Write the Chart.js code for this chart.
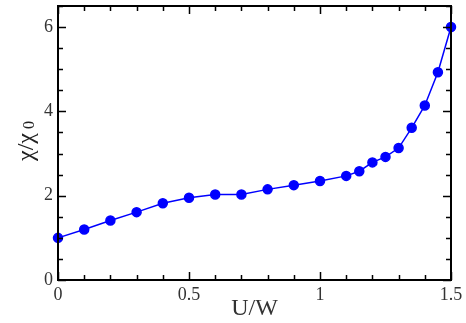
<!DOCTYPE html>
<html><head><meta charset="utf-8">
<script src="https://cdn.jsdelivr.net/npm/chart.js@4"></script>
<style>html,body{margin:0;padding:0;background:#fff}#w{width:466px;height:323px}</style>
</head><body><div id="w"><canvas id="c"></canvas></div>
<script>
const uw = [0,0.1,0.2,0.3,0.4,0.5,0.6,0.7,0.8,0.9,1.0,1.1,1.15,1.2,1.25,1.3,1.35,1.4,1.45,1.5];
const chi = [1.00,1.20,1.41,1.61,1.82,1.95,2.03,2.03,2.15,2.25,2.35,2.47,2.58,2.79,2.92,3.13,3.61,4.14,4.93,6.00];
const xMajor = [0,0.5,1,1.5];
const yMajor = [0,2,4,6];
const xTitle = 'U/W';
const FAM = '"Liberation Serif", "Times New Roman", serif';

const frame = {
  id:'frame',
  afterDatasetsDraw(chart){
    const {ctx, chartArea:a, scales:{x,y}} = chart;
    ctx.save();
    ctx.strokeStyle='#000'; ctx.lineWidth=1.5;
    ctx.beginPath();
    for(let v=0; v<=1.5001; v+=0.1){
      const px=Math.round(x.getPixelForValue(v))+0.5;
      const major = Math.abs(v*2-Math.round(v*2))<1e-6;
      const L = major?8:5;
      ctx.moveTo(px,a.bottom); ctx.lineTo(px,a.bottom-L);
      ctx.moveTo(px,a.top); ctx.lineTo(px,a.top+L);
    }
    for(let v=0; v<=6.5001; v+=0.5){
      const py=Math.round(y.getPixelForValue(v))+0.5;
      const major = Math.abs(v/2-Math.round(v/2))<1e-6;
      const L = major?8:5;
      ctx.moveTo(a.left,py); ctx.lineTo(a.left+L,py);
      ctx.moveTo(a.right,py); ctx.lineTo(a.right-L,py);
    }
    ctx.stroke();
    ctx.lineWidth=2;
    ctx.strokeRect(a.left,a.top,a.right-a.left,a.bottom-a.top);
    // y title with subscript
    ctx.translate(27,141);
    ctx.rotate(-Math.PI/2);
    ctx.fillStyle='#222';
    ctx.textBaseline='middle';
    ctx.font='24px '+FAM;
    const t1='\u03c7/\u03c7';
    const w1=ctx.measureText(t1).width;
    ctx.font='16px '+FAM;
    const w2=ctx.measureText(' 0').width;
    const start=-(w1+w2)/2;
    ctx.font='24px '+FAM;
    ctx.fillText(t1,start,0);
    ctx.font='16px '+FAM;
    ctx.fillText(' 0',start+w1,3);
    ctx.restore();
  }
};

new Chart(document.getElementById('c'),{
  type:'scatter',
  data:{datasets:[{
    data: uw.map((v,i)=>({x:v,y:chi[i]})),
    showLine:true,
    borderColor:'#0000ff', backgroundColor:'#0000ff',
    borderWidth:1.5, pointRadius:4.5, pointHoverRadius:4.5,
    clip:false
  }]},
  options:{
    responsive:true, maintainAspectRatio:false, animation:false,
    layout:{padding:{top:5,right:15,left:0,bottom:0}},
    plugins:{legend:{display:false},tooltip:{enabled:false}},
    scales:{
      x:{type:'linear',min:0,max:1.5,
        afterFit(s){s.height=43;s.paddingLeft=0;s.paddingRight=0;},
        grid:{display:false,drawTicks:false},border:{display:false},
        afterBuildTicks(s){s.ticks=xMajor.map(v=>({value:v}));},
        ticks:{padding:4,color:'#333',font:{family:FAM,size:18},maxRotation:0,
          callback:v=>String(v)},
        title:{display:true,text:xTitle,color:'#333',font:{family:FAM,size:24},padding:{top:0,bottom:0}}
      },
      y:{type:'linear',min:0,max:6.5,
        afterFit(s){s.width=58;s.paddingTop=0;s.paddingBottom=0;},
        grid:{display:false,drawTicks:false},border:{display:false},
        afterBuildTicks(s){s.ticks=yMajor.map(v=>({value:v}));},
        ticks:{padding:5,color:'#333',font:{family:FAM,size:18},callback:v=>String(v)}
      }
    }
  },
  plugins:[frame]
});
</script></body></html>
